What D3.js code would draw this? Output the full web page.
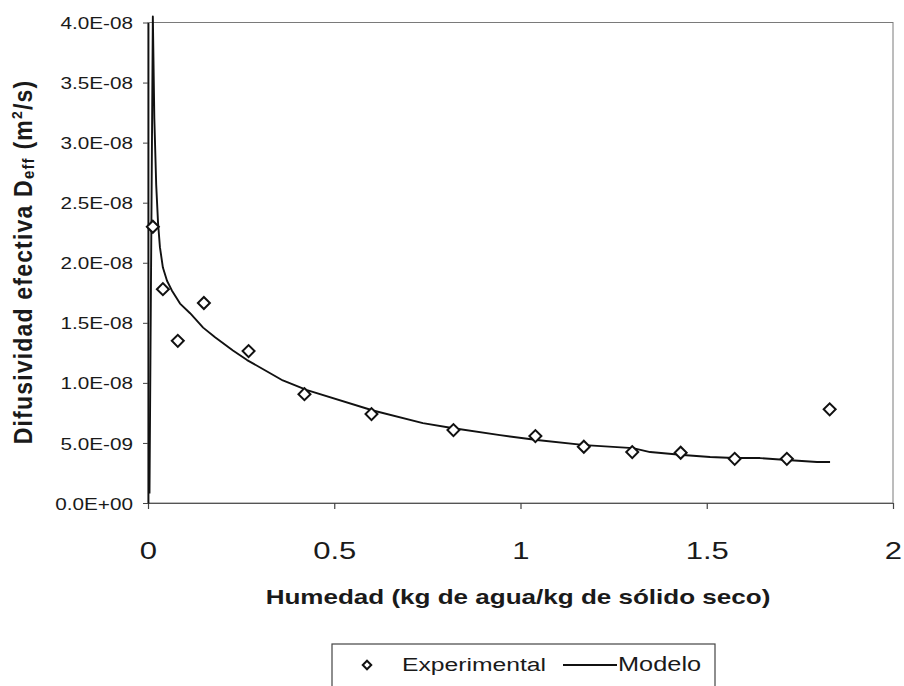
<!DOCTYPE html>
<html>
<head>
<meta charset="utf-8">
<script src="https://cdn.jsdelivr.net/npm/d3@7"></script>
<style>
  html, body { margin: 0; padding: 0; background: #fff; }
  svg { display: block; }
  text { font-family: "Liberation Sans", Arial, sans-serif; fill: #1a1a1a; }
</style>
</head>
<body>
<svg id="chart" width="904" height="686"></svg>
<script>
// ---- data ----
const expX = [0.013, 0.04, 0.08, 0.15, 0.27, 0.42, 0.60, 0.82, 1.04, 1.17, 1.30, 1.43, 1.575, 1.715, 1.83];
const expY = [2.30e-8, 1.78e-8, 1.35e-8, 1.665e-8, 1.265e-8, 0.906e-8, 0.74e-8, 0.607e-8, 0.557e-8, 0.468e-8, 0.424e-8, 0.418e-8, 0.368e-8, 0.368e-8, 0.78e-8];

const modelX = [0.004, 0.013, 0.017, 0.022, 0.027, 0.032, 0.040, 0.051, 0.064, 0.086, 0.113, 0.148, 0.180, 0.228, 0.266, 0.328, 0.362, 0.427, 0.604, 0.738, 0.816, 0.945, 1.044, 1.173, 1.302, 1.348, 1.436, 1.509, 1.573, 1.643, 1.715, 1.796, 1.831];
const modelY = [0.08e-8, 4.05e-8, 3.2e-8, 2.65e-8, 2.33e-8, 2.13e-8, 1.96e-8, 1.85e-8, 1.77e-8, 1.66e-8, 1.58e-8, 1.46e-8, 1.38e-8, 1.27e-8, 1.19e-8, 1.08e-8, 1.02e-8, 0.94e-8, 0.77e-8, 0.665e-8, 0.624e-8, 0.565e-8, 0.524e-8, 0.482e-8, 0.457e-8, 0.424e-8, 0.40e-8, 0.383e-8, 0.374e-8, 0.374e-8, 0.358e-8, 0.341e-8, 0.341e-8];

const xTicks = [0, 0.5, 1, 1.5, 2];
const xTickLabels = ["0", "0.5", "1", "1.5", "2"];
const yTicks = [0, 0.5e-8, 1.0e-8, 1.5e-8, 2.0e-8, 2.5e-8, 3.0e-8, 3.5e-8, 4.0e-8];
const yTickLabels = ["0.0E+00", "5.0E-09", "1.0E-08", "1.5E-08", "2.0E-08", "2.5E-08", "3.0E-08", "3.5E-08", "4.0E-08"];

const xTitle = "Humedad (kg de agua/kg de sólido seco)";
const legendLabels = ["Experimental", "Modelo"];

// ---- layout ----
const L = 148, R = 893, T = 22.5, B = 503;
const svg = d3.select("#chart");
const x = d3.scaleLinear().domain([0, 2]).range([L, R]);
const y = d3.scaleLinear().domain([0, 4e-8]).range([B, T]);

// frame (top/right)
svg.append("rect")
  .attr("x", L).attr("y", T).attr("width", R - L).attr("height", B - T)
  .attr("fill", "none").attr("stroke", "#7a7a7a").attr("stroke-width", 1);

// x axis
const gx = svg.append("g").attr("transform", `translate(0,${B})`)
  .call(d3.axisBottom(x).tickValues(xTicks).tickSize(6).tickSizeOuter(0)
    .tickFormat((d, i) => xTickLabels[i]));
gx.select(".domain").attr("stroke", "#555").attr("stroke-width", 1.2);
gx.selectAll(".tick line").attr("stroke", "#444").attr("stroke-width", 1.2);
gx.selectAll(".tick text")
  .attr("y", 0).attr("dy", 0)
  .attr("transform", "translate(0,56) scale(1.35,1)")
  .style("font-size", "23px").attr("fill", "#1a1a1a");

// y axis
const gy = svg.append("g").attr("transform", `translate(${L},0)`)
  .call(d3.axisLeft(y).tickValues(yTicks).tickSize(5).tickSizeOuter(0)
    .tickFormat((d, i) => yTickLabels[i]));
gy.select(".domain").attr("stroke", "#111").attr("stroke-width", 1.8);
gy.selectAll(".tick line").attr("stroke", "#444").attr("stroke-width", 1);
gy.selectAll(".tick text")
  .attr("x", -15 / 1.22).attr("dy", "0.36em")
  .attr("transform", "scale(1.22,1)")
  .style("font-size", "17px").attr("fill", "#1a1a1a");

// model line
const line = d3.line().x(d => x(d[0])).y(d => y(d[1]));
const modelData = modelX.map((v, i) => [v, modelY[i]]);
svg.append("path").datum(modelData)
  .attr("d", line).attr("fill", "none")
  .attr("stroke", "#111").attr("stroke-width", 1.9).attr("stroke-linejoin", "round");

// experimental points
const diamond = d3.symbol().type(d3.symbolSquare).size(72);
svg.append("g").selectAll("path").data(expX.map((v, i) => [v, expY[i]]))
  .join("path")
  .attr("d", diamond)
  .attr("transform", d => `translate(${x(d[0])},${y(d[1])}) rotate(45)`)
  .attr("fill", "#fff").attr("stroke", "#111").attr("stroke-width", 2);

// y title
const yt = svg.append("text")
  .attr("transform", "translate(32,262) scale(1.1,1) rotate(-90)")
  .attr("text-anchor", "middle")
  .style("font-size", "23px").style("font-weight", "bold")
  .style("letter-spacing", "1.2px");
yt.append("tspan").text("Difusividad efectiva D");
yt.append("tspan").text("eff").style("font-size", "15px").attr("dy", 2);
yt.append("tspan").text(" (m").attr("dy", -2);
yt.append("tspan").text("2").style("font-size", "14px").attr("dy", -9);
yt.append("tspan").text("/s)").attr("dy", 9);

// x title
svg.append("text")
  .attr("transform", `translate(${(L + R) / 2 - 2.5},604) scale(1.27,1)`)
  .attr("text-anchor", "middle")
  .style("font-size", "20.5px").style("font-weight", "bold")
  .text(xTitle);

// legend
const lg = svg.append("g");
lg.append("rect").attr("x", 332).attr("y", 644).attr("width", 383).attr("height", 60)
  .attr("fill", "#fff").attr("stroke", "#444").attr("stroke-width", 1.2);
lg.append("path").attr("d", d3.symbol().type(d3.symbolSquare).size(36)())
  .attr("transform", "translate(367,665) rotate(45)")
  .attr("fill", "#fff").attr("stroke", "#111").attr("stroke-width", 2);
lg.append("text").attr("transform", "translate(402,671) scale(1.3,1)")
  .style("font-size", "19px").text(legendLabels[0]);
lg.append("line").attr("x1", 563).attr("x2", 617).attr("y1", 665).attr("y2", 665)
  .attr("stroke", "#111").attr("stroke-width", 1.8);
lg.append("text").attr("transform", "translate(618,671) scale(1.3,1)")
  .style("font-size", "19.5px").text(legendLabels[1]);
</script>
</body>
</html>
